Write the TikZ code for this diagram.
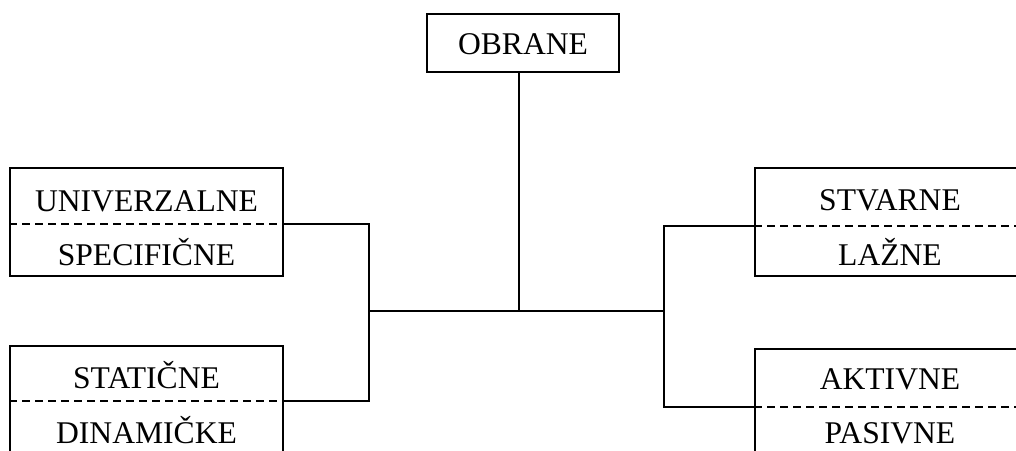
\documentclass[tikz,border=0pt]{standalone}
\usepackage{fontspec}
\setmainfont{Liberation Serif}
\begin{document}
\begin{tikzpicture}[x=1pt,y=-1pt,
  boxstyle/.style={draw,line width=2pt,inner sep=0pt,minimum width=#1},
  boxstyle/.default=273pt,
  lbl/.style={inner sep=0pt,font=\fontsize{31.6}{36}\selectfont,anchor=base},
  wire/.style={line width=2pt},
  divider/.style={line width=2pt,dash pattern=on 8pt off 5pt}]
\useasboundingbox (0,0) rectangle (1016,450);
\clip (0,0) rectangle (1016,450);
% boxes
\node[boxstyle=192pt,minimum height=58pt] (top) at (523,43) {};
\node[boxstyle,minimum height=108pt] (b1) at (146.5,222) {};
\node[boxstyle,minimum height=108pt] (b2) at (146.5,400) {};
\node[boxstyle,minimum height=108pt] (b3) at (891.5,222) {};
\node[boxstyle,minimum height=108pt] (b4) at (891.5,403) {};
% divider levels
\coordinate (d1) at (0,224);
\coordinate (d2) at (0,401);
\coordinate (d3) at (0,226);
\coordinate (d4) at (0,407);
\draw[divider] (b1.west |- d1) -- (b1.east |- d1);
\draw[divider] (b2.west |- d2) -- (b2.east |- d2);
\draw[divider] (b3.west |- d3) -- (b3.east |- d3);
\draw[divider] (b4.west |- d4) -- (b4.east |- d4);
% labels
\node[lbl] (tObrane) at (523,54) {OBRANE};
\node[lbl] (t1a) at (146.5,211) {UNIVERZALNE};
\node[lbl] (t1b) at (146.5,265) {SPECIFIČNE};
\node[lbl] (t2a) at (146.5,388) {STATIČNE};
\node[lbl] (t2b) at (146.5,443) {DINAMIČKE};
\node[lbl] (t3a) at (890,210) {STVARNE};
\node[lbl] (t3b) at (890,265) {LAŽNE};
\node[lbl] (t4a) at (890,389) {AKTIVNE};
\node[lbl] (t4b) at (890,443) {PASIVNE};
% junctions
\coordinate (jl) at (369,311);
\coordinate (jr) at (664,311);
\coordinate (jt) at (519,311);
\coordinate (tb) at (519,72);
% connectors
\draw[wire] (tb) -- (jt);
\draw[wire] (jl) -- (jr);
\draw[wire] (b1.east |- d1) -| (jl) |- (b2.east |- d2);
\draw[wire] (b3.west |- d3) -| (jr) |- (b4.west |- d4);
\end{tikzpicture}
\end{document}
